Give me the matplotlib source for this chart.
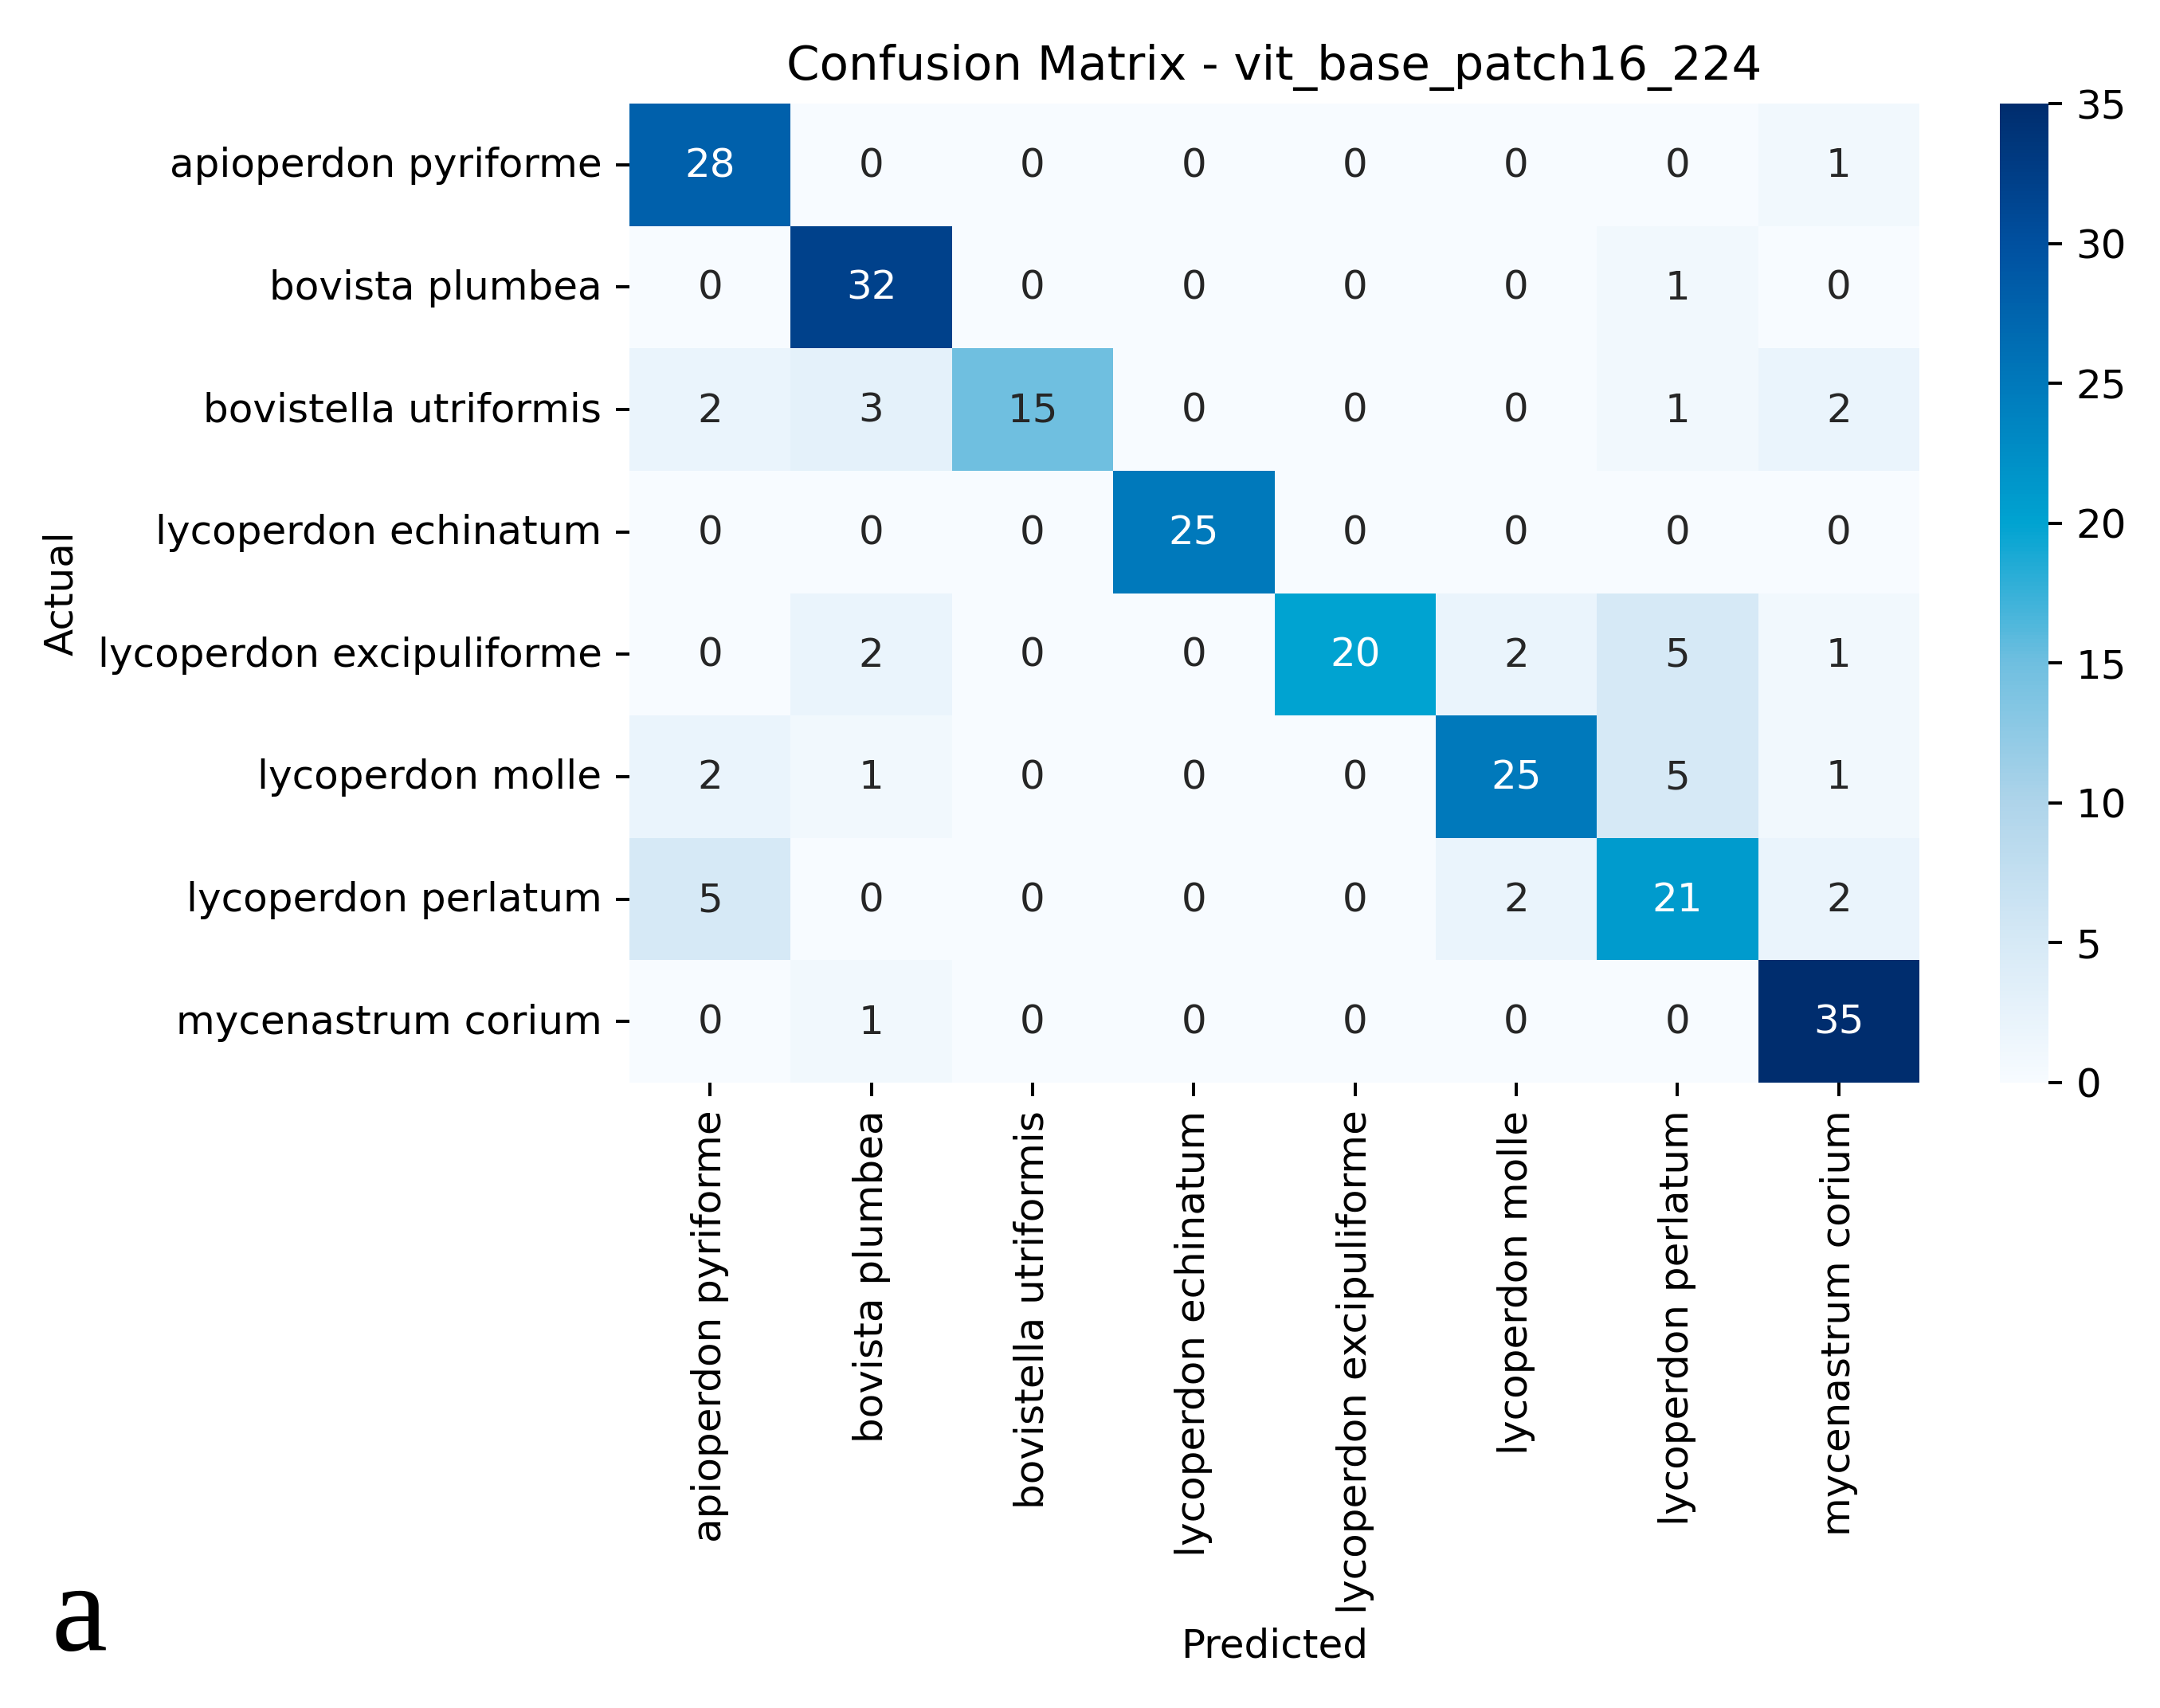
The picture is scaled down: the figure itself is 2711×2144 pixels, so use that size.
import numpy as np
import matplotlib
matplotlib.use("Agg")
import matplotlib.pyplot as plt
from matplotlib.colors import LinearSegmentedColormap
from matplotlib.transforms import ScaledTranslation

classes = [
    "apioperdon pyriforme",
    "bovista plumbea",
    "bovistella utriformis",
    "lycoperdon echinatum",
    "lycoperdon excipuliforme",
    "lycoperdon molle",
    "lycoperdon perlatum",
    "mycenastrum corium",
]
row0 = [28, 0, 0, 0, 0, 0, 0, 1]
row1 = [0, 32, 0, 0, 0, 0, 1, 0]
row2 = [2, 3, 15, 0, 0, 0, 1, 2]
row3 = [0, 0, 0, 25, 0, 0, 0, 0]
row4 = [0, 2, 0, 0, 20, 2, 5, 1]
row5 = [2, 1, 0, 0, 0, 25, 5, 1]
row6 = [5, 0, 0, 0, 0, 2, 21, 2]
row7 = [0, 1, 0, 0, 0, 0, 0, 35]
cbar_ticks = [0, 5, 10, 15, 20, 25, 30, 35]
# colours (the print shifted plain Blues)
cmap_colors = ["#f7fbff", "#d6e9f6", "#aed4ea", "#6fbfe0", "#00a3d1", "#0079bb", "#0050a0", "#002d6e"]

W, H = 2711, 2144
DPI = 355
FS = 10.15

cm = np.array([row0, row1, row2, row3, row4, row5, row6, row7])
n = len(classes)
cmap = LinearSegmentedColormap.from_list("print_blues", cmap_colors)

fig = plt.figure(figsize=(W / DPI, H / DPI), dpi=DPI)
ax = fig.add_axes([790 / W, 1 - 1359 / H, 1619 / W, 1229 / H])
cax = fig.add_axes([2510 / W, 1 - 1359 / H, 61 / W, 1229 / H])

mesh = ax.pcolormesh(np.arange(n + 1), np.arange(n + 1), cm, cmap=cmap, vmin=0, vmax=35)
ax.set_xlim(0, n)
ax.set_ylim(n, 0)
for s in ax.spines.values():
    s.set_visible(False)

for i in range(n):
    for j in range(n):
        color = "white" if cm[i, j] > 17.5 else "#262626"
        ax.annotate(str(cm[i, j]), (j + 0.5, i + 0.5), xytext=(0, 0.7), textcoords="offset points",
                    ha="center", va="center_baseline", color=color, fontsize=FS)

ax.set_xticks(np.arange(n) + 0.5)
ax.set_xticklabels(classes, rotation=90, fontsize=FS)
ax.set_yticks(np.arange(n) + 0.5)
ax.set_yticklabels(classes, rotation=0, fontsize=FS, va="center_baseline")
# nudge the row labels up a little, as in the reference
nudge = ScaledTranslation(0, 3.5 / DPI, fig.dpi_scale_trans)
for label in ax.get_yticklabels():
    label.set_transform(label.get_transform() + nudge)
ax.set_title("Confusion Matrix - vit_base_patch16_224", fontsize=12.07)
ax.set_xlabel("Predicted", fontsize=FS, labelpad=3.3)
ax.set_ylabel("Actual", fontsize=FS, labelpad=4.45)

cb = fig.colorbar(mesh, cax=cax)
cb.set_ticks(cbar_ticks)
cb.ax.tick_params(labelsize=FS)
cb.outline.set_visible(False)

fig.text(64 / W, 1 - 2071 / H, "a", fontsize=32, family="Liberation Serif", ha="left", va="baseline")

fig.savefig("out.png", dpi=DPI)
